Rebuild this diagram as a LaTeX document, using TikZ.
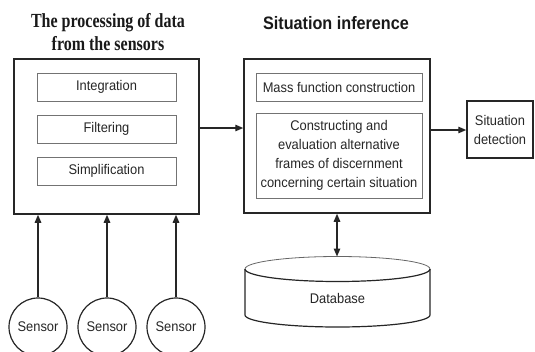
\documentclass[tikz,border=0pt]{standalone}
\usepackage{fontspec}
\setmainfont[FakeStretch=0.92]{Liberation Sans}
\newfontfamily\headsans[FakeStretch=0.9]{Liberation Sans}
\newfontfamily\titleserif[FakeStretch=0.8]{Liberation Serif}
\usetikzlibrary{arrows.meta}
\begin{document}
\begin{tikzpicture}[x=1pt,y=-1pt,
  outerbox/.style={draw=black!85, line width=1.5pt, minimum width=#1},
  innerbox/.style={draw=black!55, line width=0.8pt, minimum width=#1, align=center,
    font=\fontsize{14}{19}\selectfont, text=black!85, inner sep=1pt},
  sensor/.style={circle, draw=black!85, line width=1.2pt, minimum size=58pt,
    inner sep=0pt, font=\fontsize{14}{16}\selectfont, text=black!85},
  flow/.style={line width=1.4pt, draw=black!85, -{Triangle[length=8pt,width=6.5pt]}},
  bothflow/.style={line width=1.4pt, draw=black!85,
    {Triangle[length=8pt,width=6.5pt]}-{Triangle[length=8pt,width=6.5pt]}},
  heading/.style={align=center, text=black!90}
]
\useasboundingbox (0,0) rectangle (535,351);

% headings
\node[heading, font=\titleserif\bfseries\fontsize{20}{23}\selectfont] (t1) at (108,32.5) {The processing of data\\from the sensors};
\node[heading, font=\headsans\bfseries\fontsize{18}{22}\selectfont] (t2) at (336,23) {Situation inference};

% data processing block
\node[outerbox=185pt, minimum height=155pt] (proc) at (106.5,136.5) {};
\node[innerbox=139pt, minimum height=28pt] (integ) at (106.5,87) {Integration};
\node[innerbox=139pt, minimum height=28pt] (filt) at (106.5,129) {Filtering};
\node[innerbox=139pt, minimum height=28pt] (simp) at (106.5,171) {Simplification};

% inference block
\node[outerbox=186pt, minimum height=154pt] (infer) at (337,136) {};
\node[innerbox=166pt, minimum height=28pt] (mass) at (339,87) {Mass function construction};
\node[innerbox=166pt, minimum height=85pt] (frames) at (339,155.5)
  {Constructing and\\evaluation alternative\\frames of discernment\\concerning certain situation};

% detection output
\node[draw=black!85, line width=1.5pt, minimum width=66pt, minimum height=57pt,
  align=center, font=\fontsize{14}{19}\selectfont, text=black!85, inner sep=1pt] (detect) at (500,129.5)
  {Situation\\detection};

% sensors
\node[sensor] (s1) at (38,327) {Sensor};
\node[sensor] (s2) at (107,327) {Sensor};
\node[sensor] (s3) at (176,327) {Sensor};

% database cylinder
\fill[white] (245,269) -- (245,315) arc[start angle=180, end angle=360, x radius=92.5pt, y radius=12pt]
  -- (430,269) arc[start angle=0, end angle=-180, x radius=92.5pt, y radius=12.5pt] -- cycle;
\draw[black!85, line width=1.2pt] (245,269) -- (245,315)
  arc[start angle=180, end angle=0, x radius=92.5pt, y radius=-12pt] -- (430,269);
\draw[black!85, line width=1.2pt] (430,269) arc[start angle=0, end angle=-180, x radius=92.5pt, y radius=12.5pt];
\draw[black!60, line width=0.8pt] (430,269) arc[start angle=0, end angle=180, x radius=92.5pt, y radius=12.5pt];
\node[font=\fontsize{14}{16}\selectfont, text=black!85] (db) at (337.5,298) {Database};
\coordinate (dbtop) at (337,256.5);

% connectors
\draw[flow] (proc.east |- 0,128) -- (infer.west |- 0,128);
\draw[flow] (infer.east |- 0,130) -- (detect.west |- 0,130);
\draw[flow] (s1.north) -- (s1.north |- proc.south);
\draw[flow] (s2.north) -- (s2.north |- proc.south);
\draw[flow] (s3.north) -- (s3.north |- proc.south);
\draw[bothflow] (dbtop) -- (dbtop |- infer.south);
\end{tikzpicture}
\end{document}
